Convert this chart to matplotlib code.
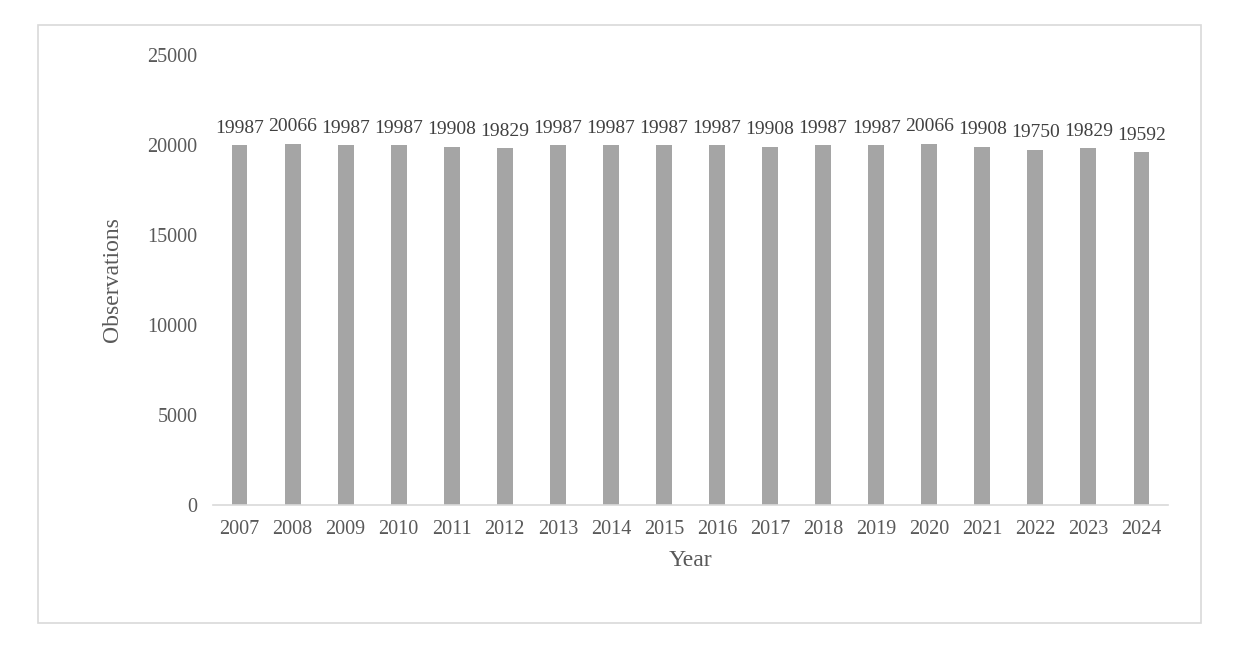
import matplotlib.pyplot as plt
from matplotlib.patches import Rectangle

years = ["2007", "2008", "2009", "2010", "2011", "2012", "2013", "2014", "2015",
         "2016", "2017", "2018", "2019", "2020", "2021", "2022", "2023", "2024"]
observations = [19987, 20066, 19987, 19987, 19908, 19829, 19987, 19987, 19987,
                19987, 19908, 19987, 19987, 20066, 19908, 19750, 19829, 19592]

plt.rcParams['font.family'] = ['Liberation Serif', 'DejaVu Serif']

fig = plt.figure(figsize=(12.5, 6.52), dpi=100)
fig.patches.append(Rectangle((0.0304, 0.0445), 0.9304, 0.9172, transform=fig.transFigure,
                             fill=False, edgecolor="#d9d9d9", linewidth=1.2))
ax = fig.add_axes([0.1704, 0.2255, 0.764, 0.6901])

x = range(len(years))
bars = ax.bar(x, observations, width=0.3, color="#a5a5a5")
for b, v in zip(bars, observations):
    ax.annotate(str(v), (b.get_x() + b.get_width() / 2, v), xytext=(0, 6),
                textcoords="offset points", ha="center", va="bottom",
                fontsize=14, color="#404040")

ax.set_xlim(-0.5, len(years) - 0.5)
ax.set_ylim(0, 25000)
ax.set_yticks(range(0, 25001, 5000))
ax.set_xticks(list(x))
ax.set_xticklabels(years)
ax.tick_params(axis="both", length=0, labelsize=14.5, labelcolor="#595959")
ax.tick_params(axis="x", pad=11)
ax.tick_params(axis="y", pad=11)
for s in ["top", "right", "left"]:
    ax.spines[s].set_visible(False)
ax.spines["bottom"].set_color("#d9d9d9")
ax.spines["bottom"].set_linewidth(1.2)

ax.set_xlabel("Year", fontsize=17, color="#595959", labelpad=8)
ax.set_ylabel("Observations", fontsize=17, color="#595959", labelpad=18)

fig.savefig("out.png", dpi=100)
